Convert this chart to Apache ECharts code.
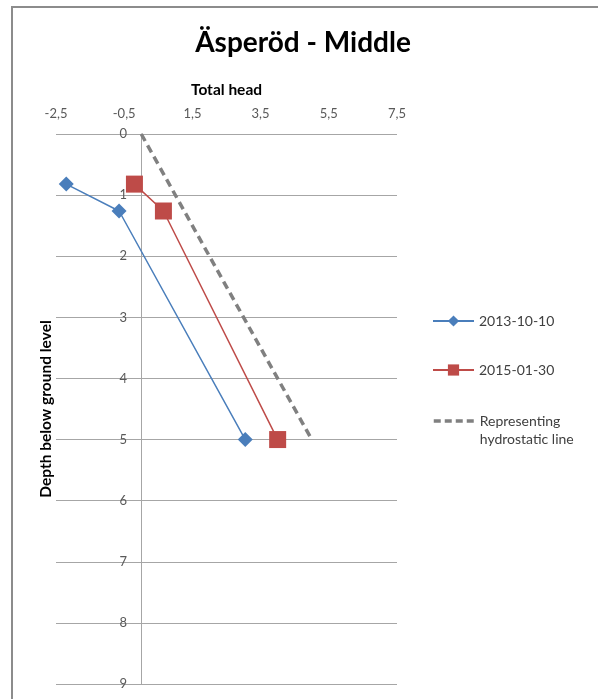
<!DOCTYPE html>
<html>
<head>
<meta charset="utf-8">
<script src="https://cdn.jsdelivr.net/npm/echarts@6/dist/echarts.min.js"></script>
<style>
html,body{margin:0;padding:0;background:#fff;}
#c{width:598px;height:699px;}
</style>
</head>
<body>
<div id="c"></div>
<script>
const title = 'Äsperöd - Middle';
const xAxisName = 'Total head';
const yAxisName = 'Depth below ground level';
const seriesNames = ['2013-10-10', '2015-01-30', 'Representing\nhydrostatic line'];
const head2013 = [-2.2, -0.65, 3.05];
const depth2013 = [0.82, 1.26, 5];
const head2015 = [-0.2, 0.65, 4.0];
const depth2015 = [0.82, 1.26, 5];
const headHydro = [0, 5];
const depthHydro = [0, 5];

const zip = (a, b) => a.map((v, i) => [v, b[i]]);
const FONT = 'Lato, "Open Sans", sans-serif';
const legendText = {fontFamily: FONT, fontSize: 14, color: '#404040', lineHeight: 18};

const chart = echarts.init(document.getElementById('c'), null, {renderer: 'canvas'});
chart.setOption({
  animation: false,
  backgroundColor: '#fff',
  title: {
    text: title, left: 298, top: 24, textAlign: 'center',
    textStyle: {fontFamily: FONT, fontSize: 28, fontWeight: 'bold', color: '#000'}
  },
  graphic: [{
    type: 'rect', shape: {x: 12, y: 7, width: 700, height: 800},
    style: {fill: 'none', stroke: '#8c8c8c', lineWidth: 2}, silent: true
  }],
  legend: [{
    orient: 'vertical', left: 432, top: 312, padding: 0, itemGap: 31, itemWidth: 41, itemHeight: 14,
    textStyle: legendText,
    data: seriesNames.slice(0, 2)
  }, {
    orient: 'vertical', left: 432, top: 394, padding: 0, itemWidth: 41, itemHeight: 14,
    textStyle: legendText,
    formatter: name => '\n' + name,
    data: [{
      name: seriesNames[2], itemStyle: {opacity: 0},
      lineStyle: {color: '#808080', width: 3.5, opacity: 1, type: [7, 4]}
    }]
  }],
  grid: {left: 56, right: 201, top: 134, bottom: 15, outerBoundsMode: 'none', containLabel: false},
  xAxis: {
    type: 'value', position: 'top', min: -2.5, max: 7.5, interval: 2,
    name: xAxisName, nameLocation: 'middle', nameGap: 36,
    nameTextStyle: {fontFamily: FONT, fontSize: 15.5, fontWeight: 'bold', color: '#000'},
    axisLine: {show: false}, axisTick: {show: false}, splitLine: {show: false},
    axisLabel: {
      margin: 14, fontFamily: FONT, fontSize: 13, color: '#595959',
      formatter: v => String(v).replace('.', ',')
    }
  },
  yAxis: {
    type: 'value', inverse: true, min: 0, max: 9, interval: 1, offset: -85,
    name: yAxisName, nameLocation: 'middle', nameGap: 87,
    nameTextStyle: {fontFamily: FONT, fontSize: 15.5, fontWeight: 'bold', color: '#000'},
    axisLine: {show: true, onZero: false, lineStyle: {color: '#a6a6a6', width: 1}},
    axisTick: {show: false},
    splitLine: {show: true, lineStyle: {color: '#a6a6a6', width: 1}},
    axisLabel: {margin: 14, fontFamily: FONT, fontSize: 13, color: '#595959'}
  },
  series: [
    {
      name: seriesNames[0], type: 'line', data: zip(head2013, depth2013),
      symbol: 'diamond', symbolSize: 15,
      lineStyle: {color: '#4A7EBB', width: 1.5}, itemStyle: {color: '#4A7EBB'}
    },
    {
      name: seriesNames[1], type: 'line', data: zip(head2015, depth2015),
      symbol: 'rect', symbolSize: 17,
      lineStyle: {color: '#BE4B48', width: 1.5}, itemStyle: {color: '#BE4B48'}
    },
    {
      name: seriesNames[2], type: 'line', data: zip(headHydro, depthHydro),
      symbol: 'none', showSymbol: false,
      lineStyle: {color: '#808080', width: 3.5, type: [8, 5]}, itemStyle: {color: '#808080'}
    }
  ]
});
</script>
</body>
</html>
